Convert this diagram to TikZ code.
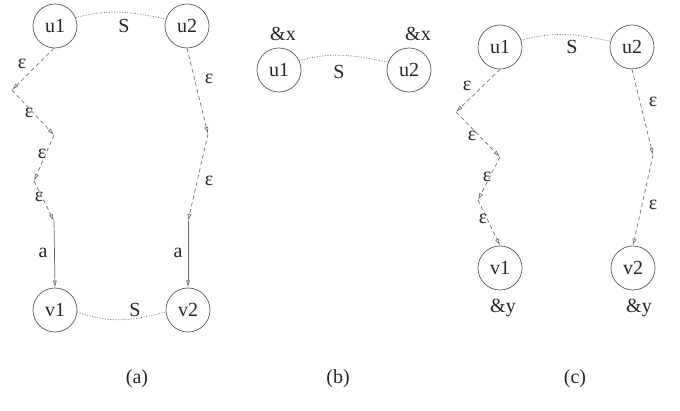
\documentclass[tikz,border=0pt]{standalone}
\usepackage{fontspec}
\setmainfont{Liberation Serif}
\usetikzlibrary{arrows.meta}

\begin{document}
\begin{tikzpicture}[
  x=1pt, y=-1pt,
  line width=0.7pt,
  state/.style={circle, draw=black!65, minimum size=44pt, inner sep=0pt, font=\fontsize{20}{24}\selectfont, text=black!85},
  lbl/.style={font=\fontsize{20}{24}\selectfont, text=black!85, inner sep=0pt},
  epsarc/.style={draw=black!55, dash pattern=on 4pt off 3pt, -{Latex[open,length=7pt,width=4pt]}},
  symarc/.style={draw=black!60, -{Latex[open,length=7pt,width=4pt]}},
  simlink/.style={draw=black!55, dash pattern=on 1pt off 1.6pt, line width=0.7pt}
]
\useasboundingbox (0,0) rectangle (680,411);

% (a)
\node[state] (au1) at (55,26) {u1};
\node[state] (au2) at (187,26) {u2};
\node[state] (av1) at (55,310) {v1};
\node[state] (av2) at (188,310) {v2};
\coordinate (ap1) at (12,90);
\coordinate (ap2) at (54,135);
\coordinate (ap3) at (34,181);
\coordinate (ap4) at (54,221);
\coordinate (aq1) at (208,134);
\coordinate (aq2) at (188,221);

\draw[simlink] (au1.22) to[out=15,in=168] (au2.162);
\draw[simlink] (av1.-5) to[out=-20,in=-165] (av2.185);
\node[lbl] (as1) at (124,26) {S};
\node[lbl] (as2) at (135,310) {S};

\draw[epsarc] (au1.-93) -- (ap1);
\draw[epsarc] (ap1) -- (ap2);
\draw[epsarc] (ap2) -- (ap3);
\draw[epsarc] (ap3) -- (ap4);
\draw[symarc] (ap4) -- (av1.north);
\draw[epsarc] (au2.-90) -- (aq1);
\draw[epsarc] (aq1) -- (aq2);
\draw[symarc] (aq2) -- (av2.north);

\node[lbl] (ae1) at (22,64) {ε};
\node[lbl] (ae2) at (29,113) {ε};
\node[lbl] (ae3) at (42,154) {ε};
\node[lbl] (ae4) at (39,197) {ε};
\node[lbl] (ae5) at (209,79) {ε};
\node[lbl] (ae6) at (209,181) {ε};
\node[lbl] (aa1) at (43,253) {a};
\node[lbl] (aa2) at (178,253) {a};

% (b)
\node[state] (bu1) at (279,70) {u1};
\node[state] (bu2) at (409,70) {u2};
\draw[simlink] (bu1.25) to[out=15,in=168] (bu2.160);
\node[lbl] (bs) at (339,72) {S};
\node[lbl] (bx1) at (283,34) {\&x};
\node[lbl] (bx2) at (418,34) {\&x};

% (c)
\node[state] (cu1) at (500,47) {u1};
\node[state] (cu2) at (632,47) {u2};
\node[state] (cv1) at (500,268) {v1};
\node[state] (cv2) at (633,268) {v2};
\coordinate (cp1) at (456,112);
\coordinate (cp2) at (500,157);
\coordinate (cp3) at (478,200);
\coordinate (cq1) at (653,155);

\draw[simlink] (cu1.18) to[out=15,in=168] (cu2.165);
\node[lbl] (cs) at (572,47) {S};

\draw[epsarc] (cu1.-90) -- (cp1);
\draw[epsarc] (cp1) -- (cp2);
\draw[epsarc] (cp2) -- (cp3);
\draw[epsarc] (cp3) -- (cv1.north);
\draw[epsarc] (cu2.-90) -- (cq1);
\draw[epsarc] (cq1) -- (cv2.north);

\node[lbl] (ce1) at (467,86) {ε};
\node[lbl] (ce2) at (472,136) {ε};
\node[lbl] (ce3) at (487,177) {ε};
\node[lbl] (ce4) at (483,219) {ε};
\node[lbl] (ce5) at (653,102) {ε};
\node[lbl] (ce6) at (653,205) {ε};
\node[lbl] (cy1) at (503,308) {\&y};
\node[lbl] (cy2) at (639,308) {\&y};

% captions
\node[lbl] (capa) at (137,379) {(a)};
\node[lbl] (capb) at (338,379) {(b)};
\node[lbl] (capc) at (575,379) {(c)};
\end{tikzpicture}
\end{document}
